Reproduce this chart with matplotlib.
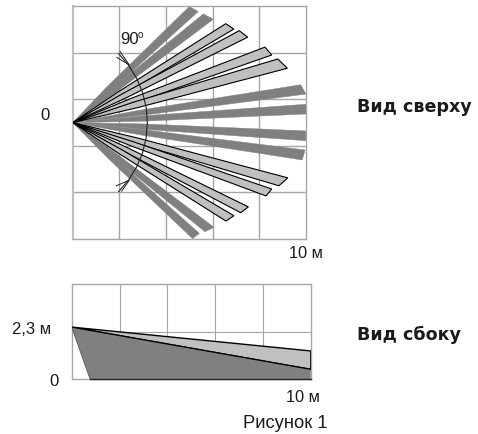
import matplotlib
matplotlib.use("Agg")
import matplotlib.pyplot as plt
import numpy as np

plt.rcParams['font.family'] = ['Liberation Sans', 'DejaVu Sans']

W, H = 478, 434
DARK = '#808080'
LIGHT = '#c0c0c0'
GRID = '#a6a6a6'
INK = '#222222'

# far corners of the beams, metres (view from above)
beam_x1 = [5.0, 5.6, 6.56, 7.14, 8.24, 8.79, 9.77, 10, 10, 9.96, 9.22, 8.53, 7.53, 6.91, 6.06, 5.43]
beam_y1 = [5.0, 4.68, 4.26, 3.96, 3.25, 2.74, 1.63, 0.79, -0.36, -1.18, -2.38, -2.86, -3.63, -4.01, -4.51, -4.77]
beam_x2 = [5.38, 6.03, 6.91, 7.5, 8.53, 9.2, 10, 10, 10, 9.84, 8.84, 8.29, 7.2, 6.57, 5.67, 5.14]
beam_y2 = [4.78, 4.45, 4.03, 3.68, 2.91, 2.34, 1.23, 0.37, -0.78, -1.61, -2.72, -3.16, -3.88, -4.24, -4.7, -5.0]
beam_kind = ['d', 'd', 'l', 'l', 'l', 'l', 'd', 'd', 'd', 'd', 'l', 'l', 'l', 'l', 'd', 'd']

top_grid_x = [2, 4, 6, 8]
top_grid_y = [-3, -1, 1, 3]
# the 90 degree arc is centred behind the sensor
arc_center = -1.0
arc_radius = 4.2
arc_deg = [-45, -36, -27, -18, -9, 0, 9, 18, 27, 36, 45]

# view from the side, metres
side_grid_x = [2, 4, 6, 8]
side_grid_y = [2.1]
dark_x = [0, 0.77, 10, 10]
dark_y = [2.3, 0, 0, 0.44]
light_x = [0, 10, 10]
light_y = [2.3, 1.25, 0.44]


def make_axes(fig, left, top, right, bottom):
    ax = fig.add_axes([left / W, 1 - bottom / H, (right - left) / W, (bottom - top) / H])
    ax.set_xticks([])
    ax.set_yticks([])
    for s in ax.spines.values():
        s.set_color(GRID)
        s.set_linewidth(1)
    return ax


def label(x, y, s, **kw):
    fig.text(x / W, 1 - y / H, s, va='center', color='#1a1a1a', **kw)


def beam_outline(x1, y1, x2, y2):
    # beams widen fast near the sensor, then run almost parallel
    cx, cy = (x1 + x2) / 2, (y1 + y2) / 2
    t, w = 0.3, 0.55
    k1 = (t * cx + w * (x1 - cx), t * cy + w * (y1 - cy))
    k2 = (t * cx + w * (x2 - cx), t * cy + w * (y2 - cy))
    return [0, k1[0], x1, x2, k2[0]], [0, k1[1], y1, y2, k2[1]]


fig = plt.figure(figsize=(W / 100, H / 100), dpi=100)

# Top view
ax = make_axes(fig, 72.7, 6.5, 306, 238.7)
ax.set_xlim(0, 10)
ax.set_ylim(-5, 5)
for g in top_grid_x:
    ax.axvline(g, color=GRID, lw=1, zorder=1)
for g in top_grid_y:
    ax.axhline(g, color=GRID, lw=1, zorder=1)
ax.spines['left'].set_color(LIGHT)
ax.spines['left'].set_linewidth(1.6)

for x1, y1, x2, y2, kind in zip(beam_x1, beam_y1, beam_x2, beam_y2, beam_kind):
    bx, by = beam_outline(x1, y1, x2, y2)
    if kind == 'd':
        ax.fill(bx, by, facecolor=DARK, edgecolor=DARK, lw=0.3, zorder=2)
    else:
        ax.fill(bx, by, facecolor=LIGHT, edgecolor='black', lw=0.8, zorder=3)

theta = np.radians(arc_deg)
ax.plot(arc_center + arc_radius * np.cos(theta), arc_radius * np.sin(theta), color=INK, lw=0.8, zorder=4)
# forked ends of the arc
ax.plot([2.03, 2.43, 1.89], [3.06, 2.48, 2.81], color=INK, lw=0.7, zorder=4)
ax.plot([1.87, 2.43, 2.1], [-2.72, -2.48, -2.95], color=INK, lw=0.7, zorder=4)

label(40, 115, '0', fontsize=12)
label(120, 39, '90', fontsize=12)
label(138, 35, 'o', fontsize=7)
label(289, 254, '10 м', fontsize=11.8)
label(357, 107, 'Вид сверху', fontsize=12.6, fontweight='bold', family='DejaVu Sans')

# Side view
ax2 = make_axes(fig, 71.7, 284, 310.7, 379.3)
ax2.set_xlim(0, 10)
ax2.set_ylim(0, 4.2)
for g in side_grid_x:
    ax2.axvline(g, color=GRID, lw=0.8, zorder=1)
for g in side_grid_y:
    ax2.axhline(g, color=GRID, lw=0.8, zorder=1)
ax2.fill(light_x, light_y, facecolor=LIGHT, edgecolor='black', lw=1, zorder=2)
ax2.fill(dark_x, dark_y, facecolor=DARK, edgecolor='none', zorder=3)
ax2.plot(dark_x[:2], dark_y[:2], color='#555555', lw=0.6, zorder=4)
ax2.plot(dark_x[1:3], dark_y[1:3], color=INK, lw=1, zorder=4, clip_on=False)
ax2.plot([dark_x[0], dark_x[3]], [dark_y[0], dark_y[3]], color='black', lw=0.9, zorder=4)

label(12, 330, '2,3 м', fontsize=12)
label(49, 381, '0', fontsize=12)
label(286, 397, '10 м', fontsize=11.8)
label(357, 335, 'Вид сбоку', fontsize=12.6, fontweight='bold', family='DejaVu Sans')
label(243, 424, 'Рисунок 1', fontsize=13.2)

fig.savefig('out.png', dpi=100)
